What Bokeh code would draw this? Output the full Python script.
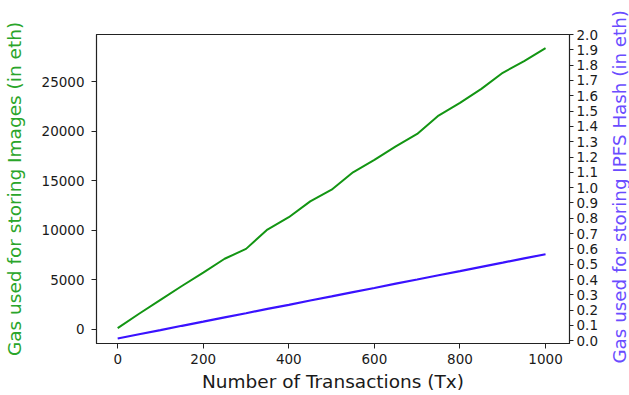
from bokeh.plotting import figure
from bokeh.layouts import row
from bokeh.models import Range1d, LinearAxis, FixedTicker, PrintfTickFormatter, Div
from bokeh.embed import file_html
from bokeh.resources import INLINE

# Number of transactions sampled every 50 Tx
transactions = [0, 50, 100, 150, 200, 250, 300, 350, 400, 450, 500,
                550, 600, 650, 700, 750, 800, 850, 900, 950, 1000]

# Gas used for storing images (left axis)
gas_images = [100, 1550, 2950, 4350, 5700, 7100, 8100, 10050, 11300, 12900, 14080,
              15830, 17080, 18460, 19710, 21560, 22840, 24260, 25880, 27050, 28370]

# Gas used for storing IPFS hashes (right axis)
gas_ipfs = [0.015, 0.043, 0.070, 0.098, 0.125, 0.153, 0.180, 0.208, 0.235, 0.263, 0.290,
            0.318, 0.345, 0.373, 0.400, 0.428, 0.455, 0.483, 0.510, 0.538, 0.565]

x_ticks = [0, 200, 400, 600, 800, 1000]
left_ticks = [0, 5000, 10000, 15000, 20000, 25000]
right_ticks = [0.0, 0.1, 0.2, 0.3, 0.4, 0.5, 0.6, 0.7, 0.8, 0.9, 1.0,
               1.1, 1.2, 1.3, 1.4, 1.5, 1.6, 1.7, 1.8, 1.9, 2.0]

GREEN_LINE = "#139513"
GREEN_TEXT = "#2aa52a"
BLUE_LINE = "#3a12ff"
BLUE_TEXT = "#6a4cff"
FONT = "DejaVu Sans"

p = figure(width=600, height=395, output_backend="svg", toolbar_location=None,
           x_range=Range1d(-49.5, 1056), y_range=Range1d(-1455, 29748),
           min_border_left=95, min_border_right=29, min_border_top=34, min_border_bottom=52)
p.extra_y_ranges = {"ipfs": Range1d(-0.0176, 2.0)}

p.xgrid.visible = False
p.ygrid.visible = False
p.outline_line_color = "#222222"
p.outline_line_width = 1.2
p.background_fill_color = "white"
p.border_fill_color = "white"

p.line(transactions, gas_images, line_color=GREEN_LINE, line_width=2)
p.line(transactions, gas_ipfs, line_color=BLUE_LINE, line_width=2.2, y_range_name="ipfs")

right = LinearAxis(y_range_name="ipfs")
p.add_layout(right, "right")


def style_axis(ax, ticks):
    ax.ticker = FixedTicker(ticks=ticks)
    ax.minor_tick_line_color = None
    ax.major_tick_in = 0
    ax.major_tick_out = 5
    ax.major_tick_line_color = "#222222"
    ax.axis_line_color = "#222222"
    ax.major_label_text_font = FONT
    ax.major_label_text_font_size = "13.5px"
    ax.major_label_text_color = "#1a1a1a"
    ax.axis_label_text_font = FONT
    ax.axis_label_text_font_size = "18.5px"
    ax.axis_label_text_font_style = "normal"


xaxis = p.xaxis[0]
style_axis(xaxis, x_ticks)
xaxis.axis_label = "Number of Transactions (Tx)"
xaxis.axis_label_text_color = "#1a1a1a"
xaxis.major_label_standoff = 5
xaxis.axis_label_standoff = 4

left = p.yaxis[0]
style_axis(left, left_ticks)
left.axis_label = "Gas used for storing Images (in eth)"
left.axis_label_text_color = GREEN_TEXT
left.major_label_standoff = 7
left.axis_label_standoff = 14

style_axis(right, right_ticks)
right.major_tick_out = 4
right.formatter = PrintfTickFormatter(format="%.1f")
right.major_label_standoff = 3

# Right-hand title in a narrow strip, reading bottom-to-top like the left one
right_title_html = (
    '<div style="width:29px;height:395px;display:flex;align-items:center;'
    'justify-content:center;overflow:visible;">'
    '<span style="writing-mode:vertical-rl;transform:rotate(180deg);white-space:nowrap;'
    f"font-family:'{FONT}';font-size:18.3px;line-height:1;color:{BLUE_TEXT};"
    'margin-left:12px;margin-bottom:22px;">'
    'Gas used for storing IPFS Hash (in eth)</span></div>'
)
strip = Div(text=right_title_html, width=29, height=395, margin=0)

layout = row(p, strip, spacing=0)

open("out.html", "w").write(file_html(layout, INLINE))
